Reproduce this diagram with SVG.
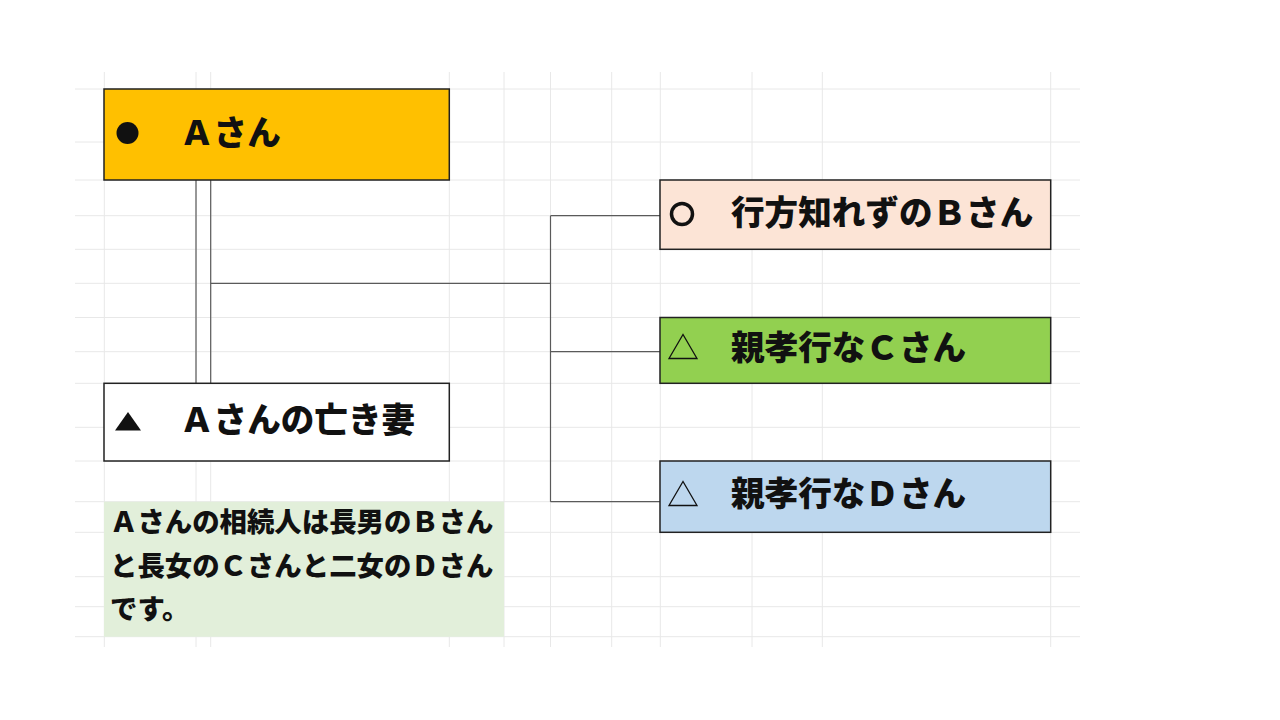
<svg xmlns="http://www.w3.org/2000/svg" width="1280" height="720" viewBox="0 0 1280 720">
<style>
.grid line{stroke:#e8e8e8;stroke-width:1}
.box{stroke:#222;stroke-width:1.5}
.conn{stroke:#5a5a5a;stroke-width:1.2;fill:none}
.t{font-family:"Noto Sans CJK JP","Noto Sans",sans-serif;font-weight:900;fill:#111}
.big{font-size:33.6px}
.small{font-size:27.4px}
</style>
<rect width="1280" height="720" fill="#ffffff"/>
<g class="grid">
<line x1="104.3" y1="72" x2="104.3" y2="647"/>
<line x1="196" y1="72" x2="196" y2="647"/>
<line x1="210.7" y1="72" x2="210.7" y2="647"/>
<line x1="449.3" y1="72" x2="449.3" y2="647"/>
<line x1="504" y1="72" x2="504" y2="647"/>
<line x1="550.5" y1="72" x2="550.5" y2="647"/>
<line x1="611.7" y1="72" x2="611.7" y2="647"/>
<line x1="660.3" y1="72" x2="660.3" y2="647"/>
<line x1="752" y1="72" x2="752" y2="647"/>
<line x1="822.3" y1="72" x2="822.3" y2="647"/>
<line x1="1050.7" y1="72" x2="1050.7" y2="647"/>
<line x1="75" y1="89" x2="1080" y2="89"/>
<line x1="75" y1="142" x2="1080" y2="142"/>
<line x1="75" y1="180" x2="1080" y2="180"/>
<line x1="75" y1="215.7" x2="1080" y2="215.7"/>
<line x1="75" y1="249.3" x2="1080" y2="249.3"/>
<line x1="75" y1="283.3" x2="1080" y2="283.3"/>
<line x1="75" y1="317.5" x2="1080" y2="317.5"/>
<line x1="75" y1="351.7" x2="1080" y2="351.7"/>
<line x1="75" y1="383.3" x2="1080" y2="383.3"/>
<line x1="75" y1="427.3" x2="1080" y2="427.3"/>
<line x1="75" y1="461" x2="1080" y2="461"/>
<line x1="75" y1="501.7" x2="1080" y2="501.7"/>
<line x1="75" y1="532.3" x2="1080" y2="532.3"/>
<line x1="75" y1="576.7" x2="1080" y2="576.7"/>
<line x1="75" y1="606.7" x2="1080" y2="606.7"/>
<line x1="75" y1="636.7" x2="1080" y2="636.7"/>
</g>
<g id="connectors" class="conn">
<line x1="196" y1="180" x2="196" y2="383.3"/>
<line x1="210.7" y1="180" x2="210.7" y2="383.3"/>
<line x1="210.7" y1="283.3" x2="550.5" y2="283.3"/>
<line x1="550.5" y1="215.7" x2="550.5" y2="501.7"/>
<line x1="550.5" y1="215.7" x2="660" y2="215.7"/>
<line x1="550.5" y1="351.7" x2="660" y2="351.7"/>
<line x1="550.5" y1="501.7" x2="660" y2="501.7"/>
</g>
<g id="nodeA">
<rect class="box" x="104" y="89" width="345.3" height="91" fill="#FFC000"/>
<circle cx="127.5" cy="133" r="11" fill="#111"/>
<text class="t big" x="180" y="145">Ａさん</text>
</g>
<g id="nodeWife">
<rect class="box" x="104" y="383.3" width="345.3" height="77.7" fill="#ffffff"/>
<polygon points="115,430.5 141,430.5 128,412" fill="#111"/>
<text class="t big" x="180" y="432">Ａさんの亡き妻</text>
</g>
<g id="nodeB">
<rect class="box" x="660" y="180" width="390.7" height="69.3" fill="#FCE4D6"/>
<circle cx="682" cy="214" r="10.5" fill="none" stroke="#111" stroke-width="3.5"/>
<text class="t big" x="731" y="225">行方知れずのＢさん</text>
</g>
<g id="nodeC">
<rect class="box" x="660" y="317.5" width="390.7" height="65.8" fill="#92D050"/>
<polygon points="669,358.5 697,358.5 683,334.5" fill="none" stroke="#111" stroke-width="1.3"/>
<text class="t big" x="731" y="360">親孝行なＣさん</text>
</g>
<g id="nodeD">
<rect class="box" x="660" y="461" width="390.7" height="71.3" fill="#BDD7EE"/>
<polygon points="669,505.5 697,505.5 683,481.5" fill="none" stroke="#111" stroke-width="1.3"/>
<text class="t big" x="731" y="506">親孝行なＤさん</text>
</g>
<g id="note">
<rect x="104" y="501.7" width="400" height="135" fill="#E2EFDA"/>
<text class="t small" x="110" y="532">Ａさんの相続人は長男のＢさん</text>
<text class="t small" x="110" y="576">と長女のＣさんと二女のＤさん</text>
<text class="t small" x="110" y="619">です。</text>
</g>
</svg>
